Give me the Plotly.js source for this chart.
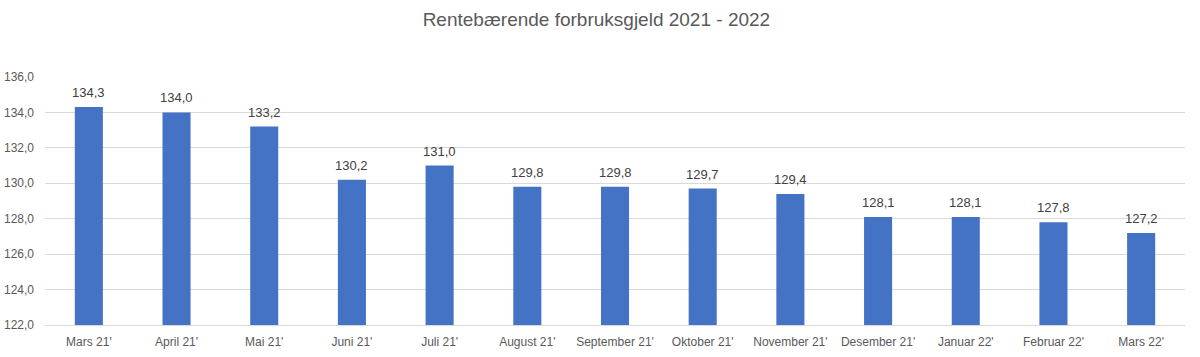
<!DOCTYPE html>
<html>
<head>
<meta charset="utf-8">
<script src="https://cdn.plot.ly/plotly-3.0.1.min.js"></script>
<style>html,body{margin:0;padding:0;background:#fff;}#chart{width:1200px;height:357px;}</style>
</head>
<body>
<div id="chart"></div>
<script>
const categories = ["Mars 21'", "April 21'", "Mai 21'", "Juni 21'", "Juli 21'", "August 21'", "September 21'", "Oktober 21'", "November 21'", "Desember 21'", "Januar 22'", "Februar 22'", "Mars 22'"];
const values = [134.3, 134.0, 133.2, 130.2, 131.0, 129.8, 129.8, 129.7, 129.4, 128.1, 128.1, 127.8, 127.2];
const tickValues = [122, 124, 126, 128, 130, 132, 134, 136];

const font = "Liberation Sans, Arial, sans-serif";
const labels = categories.map((c, i) => ({
  x: c, y: values[i], xref: 'x', yref: 'y',
  text: values[i].toFixed(1).replace('.', ','),
  showarrow: false, yanchor: 'bottom', yshift: 5,
  font: {family: font, size: 13, color: '#404040'}
}));
Plotly.newPlot('chart', [{
  type: 'bar',
  x: categories,
  y: values,
  marker: {color: '#4472C4'},
  hoverinfo: 'none'
}], {
  width: 1200, height: 357,
  separators: ', ',
  margin: {l: 45, r: 15, t: 77, b: 32},
  paper_bgcolor: '#fff', plot_bgcolor: '#fff',
  bargap: 0.68,
  annotations: labels,
  title: {text: 'Rentebærende forbruksgjeld 2021 - 2022', font: {family: font, size: 19, color: '#595959'}, x: 0.497, xanchor: 'center', y: 0.945, yanchor: 'middle'},
  xaxis: {type: 'category', tickfont: {family: font, size: 12, color: '#595959'}, showgrid: false, showline: true, linecolor: '#D9D9D9', ticks: '', ticklabelstandoff: 6, fixedrange: true},
  yaxis: {range: [122, 136], tickvals: tickValues, tickformat: '.1f', tickfont: {family: font, size: 12, color: '#595959'}, gridcolor: '#D9D9D9', zeroline: false, showline: false, ticks: '', ticklabelstandoff: 10, fixedrange: true},
  showlegend: false
}, {displayModeBar: false, staticPlot: true});
</script>
</body>
</html>
